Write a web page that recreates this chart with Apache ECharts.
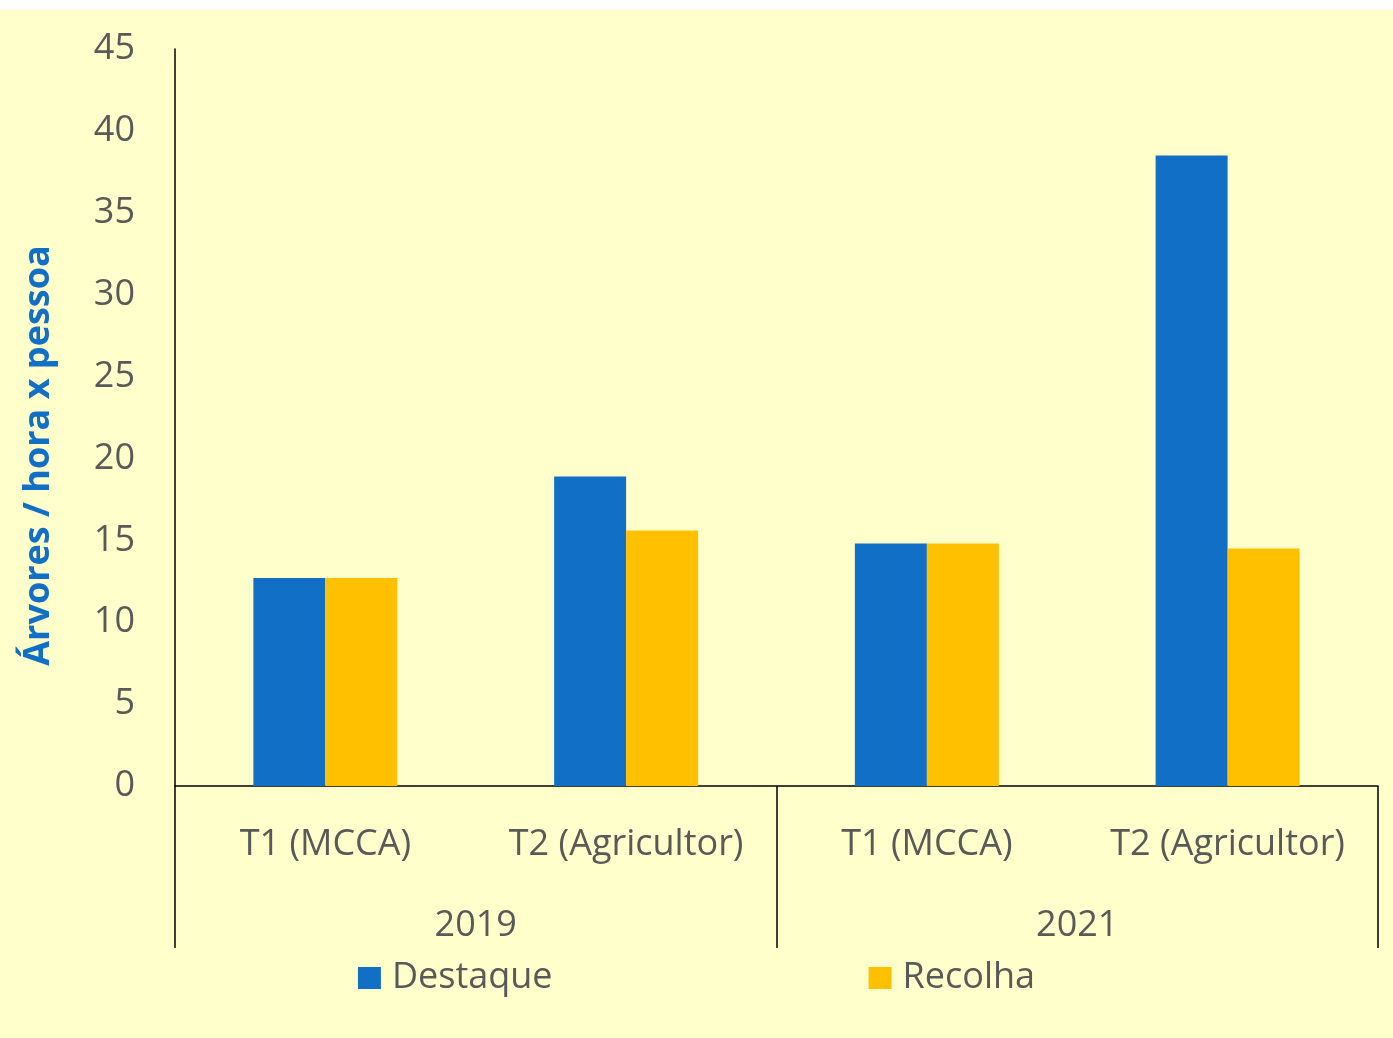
<!DOCTYPE html>
<html>
<head>
<meta charset="utf-8">
<script src="https://cdn.jsdelivr.net/npm/echarts@6/dist/echarts.min.js"></script>
<style>
  html, body { margin: 0; padding: 0; background: #ffffff; }
  #chart { position: absolute; left: 0; top: 10px; width: 1393px; height: 1028px; background: #ffffcc; }
</style>
</head>
<body>
<div id="chart"></div>
<script>
// Treatments per year and the two operations measured
const treatments = ['T1 (MCCA)', 'T2 (Agricultor)', 'T1 (MCCA)', 'T2 (Agricultor)'];
const years = ['2019', '2021'];
const destaque = [12.7, 18.9, 14.8, 38.5];
const recolha = [12.7, 15.6, 14.8, 14.5];
const yTicks = { min: 0, max: 45, step: 5 };

const FONT = '"Open Sans", "Noto Sans", sans-serif';
const TEXT = '#595959';

const chart = echarts.init(document.getElementById('chart'));
chart.setOption({
  backgroundColor: '#ffffcc',
  textStyle: { fontFamily: FONT },
  grid: { left: 175, right: 15, top: 39, bottom: 252, containLabel: false },
  legend: {
    top: 945, left: 'center',
    icon: 'rect', itemWidth: 23, itemHeight: 22, itemGap: 316,
    textStyle: { fontSize: 36, color: TEXT, fontFamily: FONT, padding: [0, 0, 0, 6] },
    data: ['Destaque', 'Recolha']
  },
  xAxis: [
    {
      type: 'category', data: treatments, gridIndex: 0,
      axisLine: { lineStyle: { color: '#000', width: 1.5 } },
      axisTick: { show: false },
      axisLabel: { margin: 41, fontSize: 36, color: TEXT, fontFamily: FONT, interval: 0 }
    },
    {
      type: 'category', data: years, gridIndex: 0, position: 'bottom',
      axisLine: { show: false },
      axisTick: { show: true, length: 162, interval: 0, lineStyle: { color: '#000', width: 1.5 } },
      axisLabel: { margin: 122, fontSize: 36, color: TEXT, fontFamily: FONT }
    }
  ],
  yAxis: {
    type: 'value', min: yTicks.min, max: yTicks.max, interval: yTicks.step,
    name: 'Árvores / hora x pessoa', nameLocation: 'middle', nameGap: 118,
    nameTextStyle: { fontSize: 36, fontWeight: 'bold', color: '#1170c6', fontFamily: FONT, padding: [0, 76, 0, 0] },
    axisLine: { show: true, lineStyle: { color: '#000', width: 1.5 } },
    axisTick: { show: false },
    splitLine: { show: false },
    axisLabel: { margin: 40, fontSize: 36, color: TEXT, fontFamily: FONT }
  },
  series: [
    { name: 'Destaque', type: 'bar', data: destaque, barWidth: 72, barGap: '0%', itemStyle: { color: '#1170c6' } },
    { name: 'Recolha', type: 'bar', data: recolha, barWidth: 72, barGap: '0%', itemStyle: { color: '#ffc000' } }
  ]
});
</script>
</body>
</html>
